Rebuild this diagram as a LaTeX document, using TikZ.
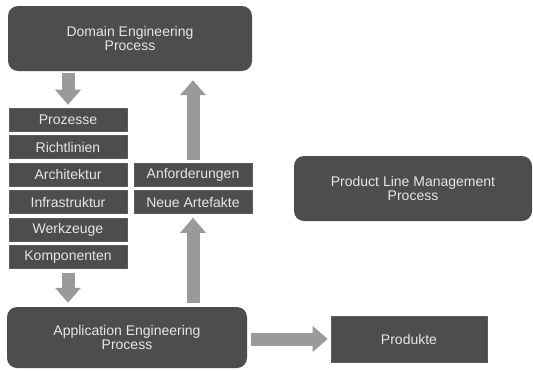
\documentclass[tikz,border=0pt]{standalone}
\usepackage{fontspec}
\setmainfont{Liberation Sans}
\usetikzlibrary{arrows.meta}
\definecolor{boxfill}{HTML}{4D4D4D}
\definecolor{boxedge}{HTML}{5C5C5C}
\definecolor{arrowgray}{HTML}{9A9A9A}
\definecolor{labelgray}{HTML}{E6E6E6}
\tikzset{
  procbox/.style={fill=boxfill, rounded corners=10pt, text=labelgray, align=center,
    font=\fontsize{14}{14.5}\selectfont, inner sep=0pt},
  itembox/.style={fill=boxfill, draw=boxedge, line width=0.6pt, text=labelgray,
    font=\fontsize{14}{14}\selectfont, inner sep=0pt,
    minimum width=118pt, minimum height=23pt},
  flow/.style={arrowgray, line width=13pt, -{Triangle[width=25pt,length=15pt]}}
}
\begin{document}
\begin{tikzpicture}[x=1pt, y=-1pt]
  \useasboundingbox (0,0) rectangle (533,370);

  % process blocks
  \node[procbox, minimum width=244pt, minimum height=65pt] (domain) at (130,38.5)
    {Domain Engineering\\Process};
  \node[procbox, minimum width=240pt, minimum height=61pt] (app) at (127,337.5)
    {Application Engineering\\Process};
  \node[procbox, minimum width=238pt, minimum height=65pt] (plm) at (413,188.5)
    {Product Line Management\\Process};
  \node[itembox, rounded corners=0pt, minimum width=156pt, minimum height=46pt] (prod) at (409,339)
    {Produkte};

  % assets passed down
  \node[itembox] (pro) at (68,119.5) {Prozesse};
  \node[itembox] (ric) at (68,147)   {Richtlinien};
  \node[itembox] (arc) at (68,174.5) {Architektur};
  \node[itembox] (inf) at (68,202)   {Infrastruktur};
  \node[itembox] (wer) at (68,229.5) {Werkzeuge};
  \node[itembox] (kom) at (68,257)   {Komponenten};

  % feedback passed up
  \node[itembox] (anf) at (193,174.5) {Anforderungen};
  \node[itembox] (neu) at (193,202)   {Neue Artefakte};

  % flows
  \draw[flow, shorten <=2pt, shorten >=3pt] (domain.south -| pro.north) -- (pro.north);
  \draw[flow, shorten <=4pt, shorten >=4pt] (kom.south) -- (kom.south |- app.north);
  \draw[flow, shorten <=4pt, shorten >=4pt] (app.north -| neu.south) -- (neu.south);
  \draw[flow, shorten <=3pt, shorten >=9pt] (anf.north) -- (anf.north |- domain.south);
  \draw[flow, shorten <=4pt, shorten >=3pt] (app.east |- prod.west) -- (prod.west);
\end{tikzpicture}
\end{document}
